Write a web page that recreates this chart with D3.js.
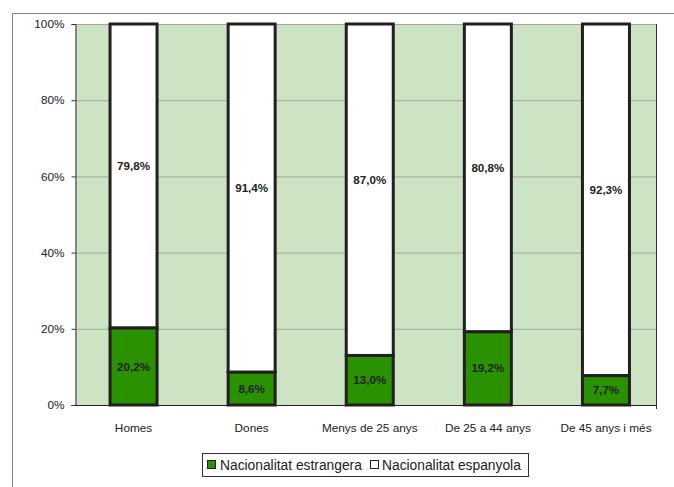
<!DOCTYPE html>
<html><head><meta charset="utf-8">
<script src="https://cdn.jsdelivr.net/npm/d3@7"></script>
<style>body{margin:0;background:#fff}svg{display:block;font-family:"Liberation Sans",Arial,sans-serif}</style>
</head><body>
<svg id="c" width="674" height="487"></svg>
<script>
const categories = ["Homes","Dones","Menys de 25 anys","De 25 a 44 anys","De 45 anys i més"];
const estrangera = [20.2, 8.6, 13.0, 19.2, 7.7];
const espanyola = [79.8, 91.4, 87.0, 80.8, 92.3];
const yTicks = [0,20,40,60,80,100];
const seriesNames = ["Nacionalitat estrangera","Nacionalitat espanyola"];
const colors = ["#2a9100","#ffffff"];

const svg = d3.select("#c");
const L=75, R=656, T=24, B=405;
svg.append("path").attr("d","M12.5,487 V13.5 H674").attr("fill","none").attr("stroke","#808080").attr("stroke-width",1);

const x = d3.scaleBand().domain(categories).range([74.5,665]).padding(0);
const y = d3.scaleLinear().domain([0,100]).range([B,T]);
svg.append("rect").attr("x",L).attr("y",T).attr("width",R-L).attr("height",B-T).attr("fill","#cce4c3");
svg.append("g").selectAll("line").data(yTicks.filter(d=>d>0)).join("line")
  .attr("x1",L).attr("x2",R).attr("y1",d=>y(d)+0.5).attr("y2",d=>y(d)+0.5).attr("stroke","#a6a6a6").attr("stroke-width",1);
svg.append("line").attr("x1",R+0.5).attr("x2",R+0.5).attr("y1",T).attr("y2",B+4).attr("stroke","#333").attr("stroke-width",1);

const yAxis = d3.axisLeft(y).tickValues(yTicks).tickFormat(d=>d+"%").tickSize(4).tickPadding(7);
const ga = svg.append("g").attr("transform",`translate(${L+0.5},0)`).call(yAxis);
ga.select(".domain").attr("stroke","#333");
ga.selectAll(".tick line").attr("stroke","#333");
ga.selectAll("text").attr("font-size",11.8).attr("fill","#222").attr("font-family","Liberation Sans, Arial, sans-serif");

svg.append("line").attr("x1",L).attr("x2",R).attr("y1",B+0.5).attr("y2",B+0.5).attr("stroke","#222");
const xAxis = d3.axisBottom(x).tickSize(0).tickPadding(18);
const gx = svg.append("g").attr("transform",`translate(0,${B+0.5})`).call(xAxis);
gx.select(".domain").remove();
gx.selectAll("text").attr("font-size",11.8).attr("fill","#222").attr("font-family","Liberation Sans, Arial, sans-serif");

const bw = x.bandwidth()*0.398;
const data = categories.map((c,i)=>({c, a:estrangera[i], b:espanyola[i]}));
const g = svg.append("g");
data.forEach(d=>{
  const cx = x(d.c)+x.bandwidth()/2;
  g.append("rect").attr("x",cx-bw/2).attr("y",y(100)).attr("width",bw).attr("height",y(d.a)-y(100))
    .attr("fill",colors[1]).attr("stroke","#231f20").attr("stroke-width",3);
  g.append("rect").attr("x",cx-bw/2).attr("y",y(d.a)).attr("width",bw).attr("height",y(0)-y(d.a))
    .attr("fill",colors[0]).attr("stroke","#231f20").attr("stroke-width",3);
  g.append("text").attr("x",cx).attr("y",y(d.a/2)).attr("dy","0.35em").attr("text-anchor","middle")
    .attr("font-size",11.6).attr("font-weight","bold").attr("fill","#222").text(d.a.toFixed(1).replace(".",",")+"%");
  g.append("text").attr("x",cx).attr("y",y(d.a+d.b/2)-10).attr("dy","0.35em").attr("text-anchor","middle")
    .attr("font-size",11.6).attr("font-weight","bold").attr("fill","#222").text(d.b.toFixed(1).replace(".",",")+"%");
});

const lg = svg.append("g");
lg.append("rect").attr("x",202.5).attr("y",453.5).attr("width",326).attr("height",23).attr("fill","#fff").attr("stroke","#333");
lg.append("rect").attr("x",207.5).attr("y",460.5).attr("width",8).attr("height",8).attr("fill",colors[0]).attr("stroke","#222");
lg.append("text").attr("x",220).attr("y",465).attr("dy","0.35em").attr("font-size",13.8).attr("fill","#222").text(seriesNames[0]);
lg.append("rect").attr("x",370.5).attr("y",460.5).attr("width",8).attr("height",8).attr("fill",colors[1]).attr("stroke","#222");
lg.append("text").attr("x",382).attr("y",465).attr("dy","0.35em").attr("font-size",13.8).attr("fill","#222").text(seriesNames[1]);
</script>
</body></html>
